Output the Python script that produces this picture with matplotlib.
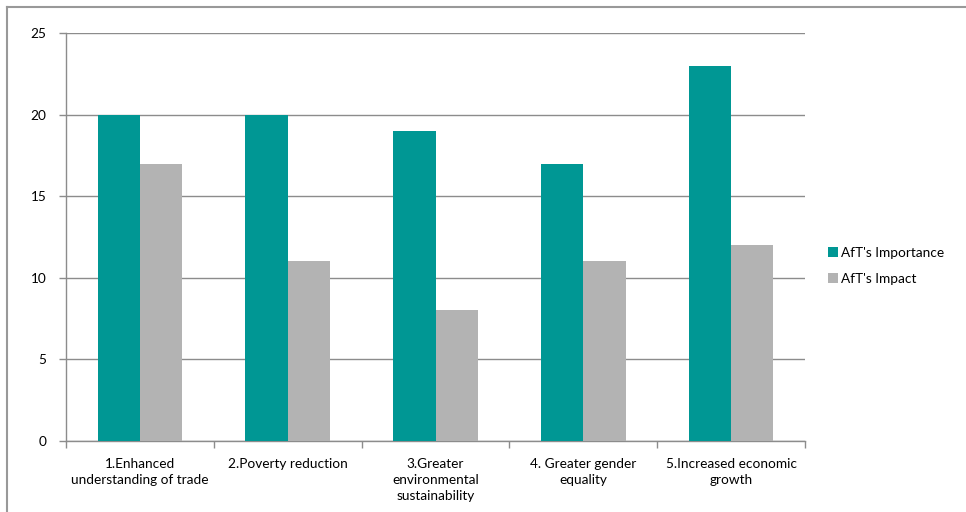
import numpy as np
import matplotlib.pyplot as plt
from matplotlib.lines import Line2D

# data
categories = ["1.Enhanced\nunderstanding of trade", "2.Poverty reduction",
              "3.Greater\nenvironmental\nsustainability", "4. Greater gender\nequality",
              "5.Increased economic\ngrowth"]
importance = [20, 20, 19, 17, 23]
impact = [17, 11, 8, 11, 12]
series_names = ["AfT's Importance", "AfT's Impact"]

TEAL = "#009794"
GREY = "#b3b3b3"
LINE = "#8c8c8c"

plt.rcParams['font.family'] = ['Lato', 'DejaVu Sans']
plt.rcParams['font.size'] = 9.8

fig = plt.figure(figsize=(9.66, 5.12), dpi=100)
ax = fig.add_axes([66/966, 1 - 441/512, (805 - 66)/966, (441 - 33)/512])

x = np.arange(len(categories))
w = 1 / 3.5
ax.bar(x - w/2, importance, w, color=TEAL, label=series_names[0], zorder=3)
ax.bar(x + w/2, impact, w, color=GREY, label=series_names[1], zorder=3)

ax.set_xlim(-0.5, len(categories) - 0.5)
ax.set_ylim(0, 25)
ax.set_yticks(range(0, 26, 5))
ax.yaxis.grid(True, color=LINE, linewidth=1, zorder=0)

ax.set_xticks(x)
ax.set_xticklabels(categories, linespacing=1.4)
ax.set_xticks(np.arange(-0.5, len(categories)), minor=True)
ax.tick_params(axis='x', which='major', length=0, pad=12)
ax.tick_params(axis='x', which='minor', length=5, color=LINE, width=1)
ax.tick_params(axis='y', length=5, color=LINE, width=1, pad=9)

for s in ['top', 'right']:
    ax.spines[s].set_visible(False)
for s in ['left', 'bottom']:
    ax.spines[s].set_color(LINE)
    ax.spines[s].set_linewidth(1)

ax.legend(loc='center left', bbox_to_anchor=(816/966, 1 - 266/512),
          bbox_transform=fig.transFigure, frameon=False,
          handlelength=0.75, handleheight=0.75, handletextpad=0.2,
          labelspacing=1.0)

# outer chart border (only top and left visible in the crop)
fig.add_artist(Line2D([7/966, 7/966], [0, 1 - 7/512], transform=fig.transFigure,
                      color="#999999", linewidth=1.5))
fig.add_artist(Line2D([7/966, 1], [1 - 7/512, 1 - 7/512], transform=fig.transFigure,
                      color="#999999", linewidth=1.5))

fig.savefig("out.png", dpi=100)
